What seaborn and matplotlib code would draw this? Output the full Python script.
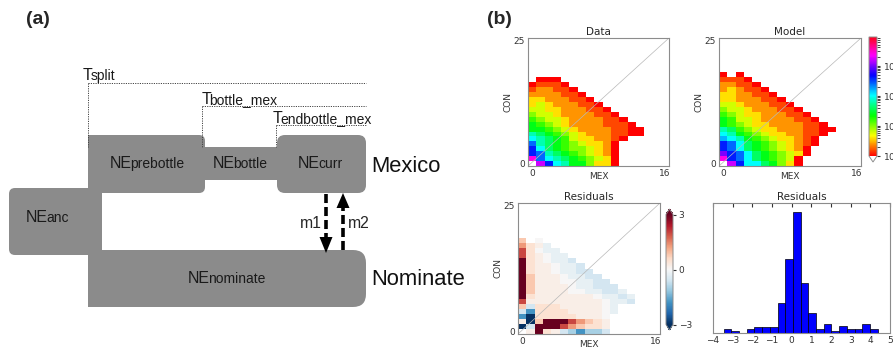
import numpy as np
import pandas as pd
import matplotlib
matplotlib.use("Agg")
import matplotlib.pyplot as plt
from matplotlib.colors import LogNorm
from matplotlib.patches import FancyBboxPatch, Polygon
import seaborn as sns

sns.set_style("white")
plt.rcParams["font.family"] = ["DejaVu Sans"]

# ---------------- panel (a): model labels ----------------
epochs = ["anc", "prebottle", "bottle", "curr", "nominate"]
pop_labels = ["Mexico", "Nominate"]
times = ["split", "bottle_mex", "endbottle_mex"]
migrations = ["m1", "m2"]

# ---------------- panel (b): 2D spectra ----------------
n_mex, n_con = 16, 25
# rows listed from the highest filled CON count down to CON = 0, columns MEX = 0..16
# cell value = 10 ** (base-36 digit / 5), '.' = empty / masked
data_rows = [
    ".000",
    "01110",
    "122110",
    "2222110",
    "33222110",
    "343222110",
    "4433222110",
    "54432222110",
    "654432222110",
    "7654322221110",
    "77654322221100",
    "98765432221100",
    "a98764332210",
    "c9876543320",
    "da876554320",
    "dc987654320",
    "hca98765430",
    ".gda9775330",
]
model_rows = [
    "0.0",
    "1110",
    "22110",
    "232110",
    "3322110",
    "33222110",
    "443222110",
    "5443222110",
    "65433222110",
    "764432222110",
    "7654332222110",
    "98654332221100",
    "a976543322110",
    "ba9765433210",
    "dca876543210",
    "dca87654320",
    "fdca8765430",
    "hdca876540",
    ".gdaa87530",
]
resid_rows = [
    "o.0",
    "mpqc",
    "rp0cc",
    "rpq0cc",
    "Rpq0ccl",
    "Rpqq0ccl",
    "Rpqq0ccll",
    "Roqqq0ccll",
    "Roqqq00ccll",
    "Roqqqq0cclll",
    "Roqqqq00ccllc",
    "Rpqqqqqqq0cclc",
    "rqqqqqqqqq0ccl",
    "olpppqqqqq0c",
    "lbppppqqqq0c",
    "bBpppppqqq0",
    "qBoRRRrmopq",
    "BlRRRrmoppq",
    ".qRpqlLbLLl",
]
resid_codes = {"R": 3.2, "r": 2.0, "m": 1.3, "o": 0.8, "p": 0.45, "q": 0.2, "0": 0.0,
               "c": -0.25, "l": -0.55, "L": -1.0, "b": -1.8, "B": -3.2}

hist_counts = [2, 1, 0, 2, 3, 3, 3, 16, 40, 65, 27, 11, 2, 5, 1, 4, 2, 2, 5, 2]
hist_lo, hist_hi = -3.46, 4.37

mex = list(range(n_mex + 1))
con = list(range(n_con, -1, -1))


def grid_frame(rows, value):
    rows = [""] * (n_con + 1 - len(rows)) + rows
    vals = [[value(ch) for ch in r.ljust(n_mex + 1, ".")] for r in rows]
    return pd.DataFrame(vals, index=con, columns=mex)


sfs_value = lambda ch: np.nan if ch == "." else 10 ** (int(ch, 36) / 5)
res_value = lambda ch: np.nan if ch == "." else resid_codes[ch]
data_df = grid_frame(data_rows, sfs_value)
model_df = grid_frame(model_rows, sfs_value)
resid_df = grid_frame(resid_rows, res_value)

W, H = 893, 351
fig = plt.figure(figsize=(W / 100, H / 100), dpi=100)


def px_axes(x0, y0, x1, y1):
    return fig.add_axes([x0 / W, 1 - y1 / H, (x1 - x0) / W, (y1 - y0) / H])


# ================= panel (a) =================
ax = fig.add_axes([0, 0, 470 / W, 1])
ax.set_xlim(0, 470)
ax.set_ylim(H, 0)
ax.axis("off")
arial = "Liberation Sans"
box_grey = "#8b8b8b"
ink = "#1a1a1a"

# x, y, w, h, corner radius (pixel units)
boxes = {
    "stem": (88, 135, 14, 172, 0),
    "anc": (9, 188, 92, 67, 6),
    "bottle": (200, 147, 82, 33, 0),
    "prebottle": (88, 135, 117, 58, 6),
    "curr": (277, 135, 89, 58, 8),
    "nominate": (88, 250, 278, 57, 13),
}
for name, (x, y, w, h, r) in boxes.items():
    style = f"round,pad=0,rounding_size={r}" if r else "square,pad=0"
    ax.add_patch(FancyBboxPatch((x, y), w, h, boxstyle=style, fc=box_grey, ec="none"))

# split point between "NE" and the smaller suffix, baseline
epoch_text = {"anc": (48, 222), "prebottle": (132, 168), "bottle": (235, 168),
              "curr": (320, 168), "nominate": (210, 283)}
for name in epochs:
    x, y = epoch_text[name]
    ax.text(x, y, "NE", ha="right", va="baseline", fontsize=11.5, family=arial, color=ink)
    ax.text(x - 2, y, name, ha="left", va="baseline", fontsize=10, family=arial, color=ink)

for lab, y in zip(pop_labels, [172, 285]):
    ax.text(371, y, lab, ha="left", va="baseline", fontsize=15.8, family=arial, color="#111")

# time markers: T split x, baseline, dotted line y, line start x
time_marks = {"split": (92, 80, 83, 88), "bottle_mex": (211, 104, 106, 202),
              "endbottle_mex": (282, 123, 125, 276)}
for name in times:
    tx, ty, ly, lx = time_marks[name]
    ax.text(tx, ty, "T", ha="right", va="baseline", fontsize=11.5, family=arial, color=ink)
    ax.text(tx - 1.5, ty, name, ha="left", va="baseline", fontsize=10, family=arial, color=ink)
    ax.plot([lx, 366], [ly, ly], color="#444", lw=0.7, ls=(0, (1.2, 1.2)), zorder=3)
    ax.plot([lx, lx], [ly, 147], color="#444", lw=0.7, ls=(0, (1.2, 1.2)), zorder=3)

# migration arrows: x, tail y, head base y, tip y
arrows = {"m1": (326, 194, 237, 253), "m2": (343, 250, 208, 193)}
for name in migrations:
    x, y0, yb, yt = arrows[name]
    ax.plot([x, x], [y0, yb], color="black", lw=2.6, ls=(0, (2.5, 1.1)), zorder=4)
    ax.add_patch(Polygon([(x - 6.5, yb), (x + 6.5, yb), (x, yt)], closed=True, fc="black", ec="none", zorder=4))
ax.text(322, 228, migrations[0], ha="right", va="baseline", fontsize=11.3, family=arial)
ax.text(348, 228, migrations[1], ha="left", va="baseline", fontsize=11.3, family=arial)

fig.text(26 / W, 1 - 24 / H, "(a)", fontsize=14, fontweight="bold", family=arial, va="baseline")
fig.text(487 / W, 1 - 24 / H, "(b)", fontsize=14, fontweight="bold", family=arial, va="baseline")

# ================= panel (b) =================
ax_data = px_axes(528, 38, 669, 166)
ax_model = px_axes(719, 38, 861, 166)
cax_sfs = px_axes(869, 37, 877, 162)
ax_res = px_axes(518, 203, 660, 334)
cax_res = px_axes(666, 209, 673, 330)
ax_hist = px_axes(713, 203, 890, 333)

sfs_cmap = plt.get_cmap("hsv").copy()
sfs_cmap.set_under("white")
sfs_cmap.set_bad("white")
sfs_norm = LogNorm(vmin=1, vmax=10 ** 3.95)

frame_grey = "0.55"
tick_grey = "#333333"


def style_2d(a, title):
    for s in a.spines.values():
        s.set_visible(True)
        s.set_color(frame_grey)
        s.set_linewidth(0.8)
    a.plot([0, n_mex + 1], [n_con + 1, 0], color="0.72", lw=0.5)
    a.set_xticks([0.5, n_mex + 0.5], ["0", str(n_mex)], rotation=0)
    a.set_yticks([0.5, n_con + 0.5], [str(n_con), "0"], rotation=0)
    a.tick_params(labelsize=6.5, length=0, pad=2, colors=tick_grey)
    a.set_xlabel("MEX", fontsize=6.5, labelpad=-4, color=tick_grey)
    a.set_ylabel("CON", fontsize=6.5, labelpad=1, color=tick_grey)
    a.set_title(title, fontsize=7.5, pad=2)


sns.heatmap(data_df, ax=ax_data, cmap=sfs_cmap, norm=sfs_norm, cbar=False,
            xticklabels=False, yticklabels=False)
sns.heatmap(model_df, ax=ax_model, cmap=sfs_cmap, norm=sfs_norm, cbar=True, cbar_ax=cax_sfs,
            cbar_kws={"extend": "min"}, xticklabels=False, yticklabels=False)
sns.heatmap(resid_df, ax=ax_res, cmap="RdBu_r", vmin=-3, vmax=3, cbar=True, cbar_ax=cax_res,
            cbar_kws={"extend": "both", "ticks": [-3, 0, 3]}, xticklabels=False, yticklabels=False)
style_2d(ax_data, "Data")
style_2d(ax_model, "Model")
style_2d(ax_res, "Residuals")

for cax in (cax_sfs, cax_res):
    cax.tick_params(labelsize=6.5, length=2, pad=2, colors=tick_grey)
for a in (ax_model, ax_res):
    cb = a.collections[0].colorbar
    cb.outline.set_linewidth(0.7)
    cb.outline.set_edgecolor(frame_grey)

hist_df = pd.DataFrame({
    "resid": (np.linspace(hist_lo, hist_hi, len(hist_counts) + 1)[:-1]
              + (hist_hi - hist_lo) / len(hist_counts) / 2),
    "n": hist_counts,
})
sns.histplot(data=hist_df, x="resid", weights="n", bins=len(hist_counts),
             binrange=(hist_lo, hist_hi), color="#0000ff", edgecolor="black",
             linewidth=0.5, alpha=1, ax=ax_hist)
ax_hist.set_xlim(-4, 5)
ax_hist.set_ylim(0, 70)
ax_hist.set_xticks(range(-4, 6))
ax_hist.set_yticks([])
ax_hist.set_xlabel("")
ax_hist.set_ylabel("")
ax_hist.set_title("Residuals", fontsize=7.5, pad=2)
ax_hist.tick_params(axis="x", top=True, direction="in", length=3, labelsize=6.5, pad=2,
                    colors=tick_grey)
for s in ax_hist.spines.values():
    s.set_visible(True)
    s.set_color(frame_grey)
    s.set_linewidth(0.8)

fig.savefig("out.png", dpi=100)
